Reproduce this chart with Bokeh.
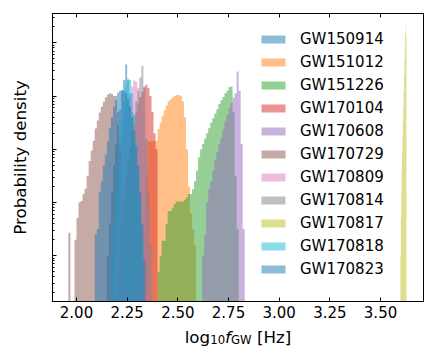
from bokeh.plotting import figure
from bokeh.layouts import column
from bokeh.models import (Range1d, LinearAxis, FixedTicker, Legend, LegendItem,
                          Label, CustomJSTickFormatter)
from bokeh.embed import file_html
from bokeh.resources import INLINE

# ---------------- data (log10 of probability density per bin) ----------------
events = ["GW150914", "GW151012", "GW151226", "GW170104", "GW170608", "GW170729",
          "GW170809", "GW170814", "GW170817", "GW170818", "GW170823"]
colors = ["#1f77b4", "#ff7f0e", "#2ca02c", "#d62728", "#9467bd", "#8c564b",
          "#e377c2", "#7f7f7f", "#bcbd22", "#17becf", "#1f77b4"]

bin_width = 0.01
bin_width_gw170817 = 0.002

gw150914_start = 2.15
gw150914_logdens = [-3.0, -2.4, -1.8, -1.3, -0.9, -0.55, -0.25, 0.1, 0.3, 0.59,
                    0.3, 0.05, -0.3, -0.75, -1.3, -1.9, -2.6, -3.3]

gw151012_start = 2.33
gw151012_logdens = [-2.5, -1.5, -0.86, -0.85, -0.85, -0.84, -0.84, -0.62, -0.5, -0.38,
                    -0.27, -0.18, -0.1, -0.06, -0.03, 0.0, 0.02, 0.02, 0.0, -0.1,
                    -0.4, -1.0, -1.7, -2.2, -2.5, -2.8]

gw151226_start = 2.40
gw151226_logdens = [-3.3, -3.0, -2.72, -2.72, -2.4, -2.16, -2.16, -2.1, -2.03, -1.98,
                    -1.98, -1.98, -1.98, -1.95, -1.9, -1.84, -1.84, -1.75, -1.6, -1.4,
                    -1.15, -1.0, -0.9, -0.8, -0.7, -0.6, -0.5, -0.42, -0.33, -0.25,
                    -0.15, -0.08, -0.02, 0.05, 0.1, 0.17, 0.18, -0.3, -1.5, -2.5]

gw170104_start = 2.20
gw170104_logdens = [-3.3, -2.8, -2.3, -1.9, -1.5, -1.2, -0.95, -0.7, -0.5, -0.3,
                    -0.15, -0.02, 0.08, 0.18, 0.21, 0.15, 0.0, -0.3, -0.7, -1.0]

gw170608_start = 2.62
gw170608_logdens = [-3.0, -2.6, -2.0, -1.75, -1.6, -1.4, -1.2, -1.05, -0.9, -0.78,
                    -0.62, -0.48, -0.35, -0.22, -0.12, -0.03, 0.05, 0.46, 0.1, -0.9,
                    -2.5]

gw170729_start = 1.96
gw170729_logdens = [-2.57, None, None, -2.7, -2.29, -2.0, -1.97, -1.84, -1.74, -1.5,
                    -1.22, -1.03, -0.84, -0.61, -0.46, -0.31, -0.2, -0.11, -0.03, 0.03,
                    0.05, 0.04, 0.0, -0.08, -0.3, -1.0, -2.0, -3.0]

gw170809_start = 2.19
gw170809_logdens = [-2.9, -2.2, -1.6, -1.1, -0.7, -0.4, -0.15, 0.0, 0.18, 0.29,
                    0.27, 0.15, -0.05, -0.35, -0.8, -1.4, -2.1, -2.9]

gw170814_start = 2.22
gw170814_logdens = [-3.0, -2.4, -1.9, -1.4, -1.0, -0.65, -0.35, -0.1, 0.1, 0.35,
                    0.57, 0.15, -0.8, -1.8, -2.8]

gw170817_start = 3.598
gw170817_logdens = [-3.0, -2.3, -1.8, -1.4, -1.1, -0.8, -0.5, -0.2, 0.1, 0.4,
                    0.7, 0.95, 1.2, 1.32, 1.1]

gw170818_start = 2.17
gw170818_logdens = [-3.0, -2.4, -1.8, -1.3, -0.85, -0.45, -0.1, 0.2, 0.33, 0.3,
                    0.05, -0.35, -0.85, -1.4, -2.0, -2.7]

gw170823_start = 2.09
gw170823_logdens = [-2.6, -2.5, -1.8, -1.6, -1.3, -1.1, -0.85, -0.6, -0.4, -0.2,
                    0.0, 0.06, 0.1, 0.12, 0.1, 0.05, -0.05, -0.2, -0.4, -0.65,
                    -0.95, -1.3, -1.8, -2.4, -3.1]

series = [
    (gw150914_start, bin_width, gw150914_logdens),
    (gw151012_start, bin_width, gw151012_logdens),
    (gw151226_start, bin_width, gw151226_logdens),
    (gw170104_start, bin_width, gw170104_logdens),
    (gw170608_start, bin_width, gw170608_logdens),
    (gw170729_start, bin_width, gw170729_logdens),
    (gw170809_start, bin_width, gw170809_logdens),
    (gw170814_start, bin_width, gw170814_logdens),
    (gw170817_start, bin_width_gw170817, gw170817_logdens),
    (gw170818_start, bin_width, gw170818_logdens),
    (gw170823_start, bin_width, gw170823_logdens),
]

xticks = [2.0, 2.25, 2.5, 2.75, 3.0, 3.25, 3.5]
xtick_labels = ["2.00", "2.25", "2.50", "2.75", "3.00", "3.25", "3.50"]

x_min, x_max = 1.8816, 3.712
y_min, y_max = 10 ** -3.86, 10 ** 1.55

FLOOR = 1e-9
FONT = "DejaVu Sans"
W = 436
H_MAIN = 324
H_LABEL = 39
BORDER_L, BORDER_R = 52, 13


def step_outline(start, width, logdens):
    xs, ys = [start], [FLOOR]
    for i, v in enumerate(logdens):
        h = FLOOR if v is None else 10 ** v
        x0 = start + i * width
        xs += [x0, x0 + width]
        ys += [h, h]
    xs.append(start + len(logdens) * width)
    ys.append(FLOOR)
    return xs, ys


p = figure(width=W, height=H_MAIN, x_range=Range1d(x_min, x_max),
           y_range=Range1d(y_min, y_max), y_axis_type="log",
           output_backend="svg", toolbar_location=None,
           min_border_left=BORDER_L, min_border_right=BORDER_R, min_border_top=13,
           min_border_bottom=23)
p.xgrid.visible = False
p.ygrid.visible = False
p.outline_line_color = "black"
p.outline_line_alpha = 1.0
p.background_fill_color = "white"
p.border_fill_color = "white"

renderers = []
for (start, width, logdens), col in zip(series, colors):
    xs, ys = step_outline(start, width, logdens)
    r = p.patch(xs, ys, fill_color=col, fill_alpha=0.5, line_alpha=0)
    renderers.append(r)

# bottom axis
xa = p.xaxis[0]
xa.ticker = FixedTicker(ticks=xticks)
xa.major_label_overrides = dict(zip(xticks, xtick_labels))
xa.major_label_text_font = FONT
xa.major_label_text_font_size = "15px"
xa.major_label_text_color = "black"
xa.major_label_standoff = 4
xa.major_tick_in = 4
xa.major_tick_out = 0
xa.minor_tick_line_color = None
xa.axis_line_color = "black"
xa.major_tick_line_color = "black"

# top axis: ticks only
top = LinearAxis(ticker=FixedTicker(ticks=xticks),
                 formatter=CustomJSTickFormatter(code="return ''"),
                 major_label_text_font_size="0px", major_label_standoff=0,
                 major_tick_in=4, major_tick_out=0, minor_tick_line_color=None,
                 axis_line_color="black", major_tick_line_color="black")
p.add_layout(top, "above")

# left axis: log ticks, no labels
ya = p.yaxis[0]
ya.formatter = CustomJSTickFormatter(code="return ''")
ya.major_label_text_font_size = "0px"
ya.major_label_standoff = 0
ya.major_tick_in = 4
ya.major_tick_out = 0
ya.minor_tick_in = 2
ya.minor_tick_out = 0
ya.axis_line_color = "black"
ya.major_tick_line_color = "black"
ya.minor_tick_line_color = "black"
ya.axis_label = "Probability density"
ya.axis_label_text_font = FONT
ya.axis_label_text_font_size = "16.7px"
ya.axis_label_text_font_style = "normal"
ya.axis_label_text_color = "black"
ya.axis_label_standoff = 23

legend = Legend(items=[LegendItem(label=n, renderers=[r]) for n, r in zip(events, renderers)],
                location=(206, 22), padding=0, margin=0, spacing=3,
                glyph_width=30, glyph_height=10, label_height=20,
                label_standoff=12, label_text_font=FONT, label_text_font_size="15px",
                label_text_color="black", background_fill_alpha=0,
                border_line_color=None)
p.add_layout(legend)

# x-axis label strip: log_10 f_GW [Hz]
q = figure(width=W, height=H_LABEL, x_range=Range1d(0, W - BORDER_L - BORDER_R),
           y_range=Range1d(0, H_LABEL),
           output_backend="svg", toolbar_location=None,
           x_axis_location=None, y_axis_location=None,
           min_border_left=BORDER_L, min_border_right=BORDER_R,
           min_border_top=0, min_border_bottom=0)
q.xgrid.visible = False
q.ygrid.visible = False
q.outline_line_color = None
q.background_fill_color = "white"
q.border_fill_color = "white"

main_fs, sub_fs = 16.7, 11.7
pieces = [("log", main_fs, "normal", 0.0, 1.525),
          ("10", sub_fs, "normal", -3.0, 1.272),
          ("f", main_fs, "italic", 0.0, 0.352),
          ("GW", sub_fs, "normal", -3.0, 1.764),
          ("[Hz]", main_fs, "normal", 0.0, 2.057)]
space = 0.318 * main_fs
total = sum(fs * w for _, fs, _, _, w in pieces) + space
frame_center = (W - BORDER_L - BORDER_R) / 2
cx = frame_center - total / 2
base_y = 27
for txt, fs, style, dy, w in pieces:
    if txt == "[Hz]":
        cx += space
    q.add_layout(Label(x=cx, y=base_y + dy, x_units="screen", y_units="screen",
                       text=txt, text_font=FONT, text_font_size=f"{fs}px",
                       text_font_style=style, text_color="black",
                       text_baseline="alphabetic", text_align="left"))
    cx += fs * w

layout = column(p, q, spacing=0)
open("out.html", "w").write(file_html(layout, INLINE))
